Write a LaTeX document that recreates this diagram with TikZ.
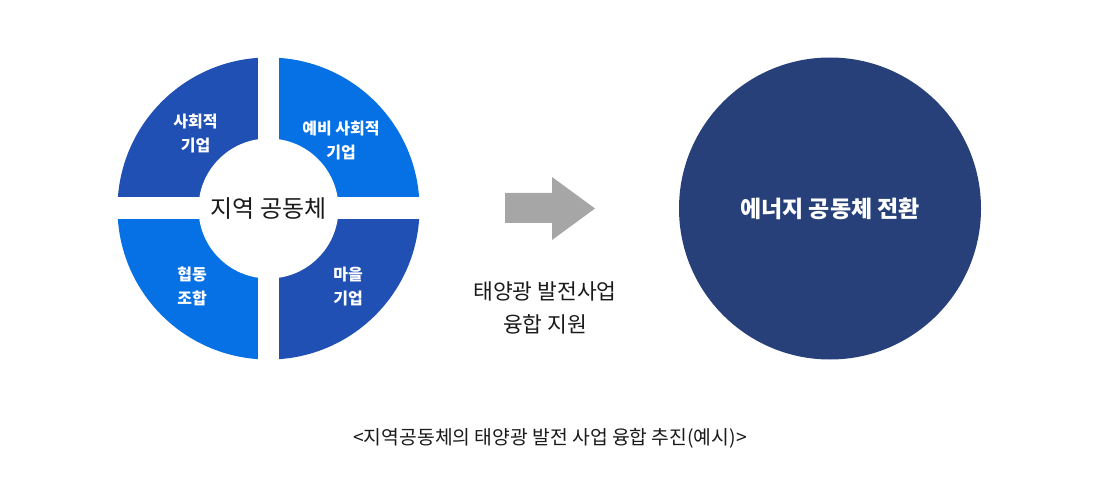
\documentclass[tikz,border=0pt]{standalone}
\usepackage{fontspec}
\setmainfont{Noto Sans CJK KR}
\usetikzlibrary{positioning}
\definecolor{RingDark}{HTML}{2150B4}
\definecolor{RingBright}{HTML}{0671E5}
\definecolor{Navy}{HTML}{27407A}
\definecolor{ArrowGray}{HTML}{A6A6A6}
\definecolor{Ink}{HTML}{1A1A1A}
\tikzset{
  quadlabel/.style={text=white,inner sep=0pt,align=center,
    font=\fontsize{16}{24}\selectfont\bfseries},
  hub/.style={circle,fill=white,minimum size=140pt,inner sep=0pt,
    text=Ink,font=\fontsize{24}{28}\selectfont},
  goal/.style={circle,fill=Navy,minimum size=302pt,inner sep=0pt,
    text=white,font=\fontsize{23}{28}\selectfont\bfseries},
  plain/.style={text=Ink,inner sep=0pt,align=center},
}

\begin{document}
\begin{tikzpicture}[x=1pt,y=1pt]
        \useasboundingbox (0,0) rectangle (1100,488);
        \coordinate (ring) at (268.5,279.5);
        % four quarters of the ring
        \foreach \ang/\col in {90/RingDark, 0/RingBright,
                               270/RingDark, 180/RingBright} {
          \fill[\col] (ring) -- ++(\ang:151)
                arc[start angle=\ang,delta angle=90,radius=151] -- cycle;
        }
        \fill[white] ([xshift=-10.5pt,yshift=-153pt]ring)
                rectangle ([xshift=10.5pt,yshift=153pt]ring);
        \fill[white] ([xshift=-153pt,yshift=-11pt]ring)
                rectangle ([xshift=153pt,yshift=11pt]ring);
        \node[hub] (hub) at (ring) {지역 공동체};
        \foreach \px/\py/\nm/\lab in {195.5/354/soc/{사회적\\기업},
                                      341/348/presoc/{예비 사회적\\기업},
                                      192/202/coop/{협동\\조합},
                                      348/201/village/{마을\\기업}} {
          \node[quadlabel] (\nm) at (\px,\py) {\lab};
        }
        % arrow in the middle
        \fill[ArrowGray] (505,295) -- (552,295) -- (552,311) -- (595,279.5)
              -- (552,248) -- (552,265) -- (505,265) -- cycle;
        \node[plain,font=\fontsize{21.5}{33}\selectfont] (support)
              at (545,180.5) {태양광 발전사업\\융합 지원};
        \node[goal] (energy) at (830,279.5) {에너지 공동체 전환};
        \node[plain,font=\fontsize{19.3}{22}\selectfont] (caption)
              at (550,50) {<지역공동체의 태양광 발전 사업 융합 추진(예시)>};
      \end{tikzpicture}
\end{document}
